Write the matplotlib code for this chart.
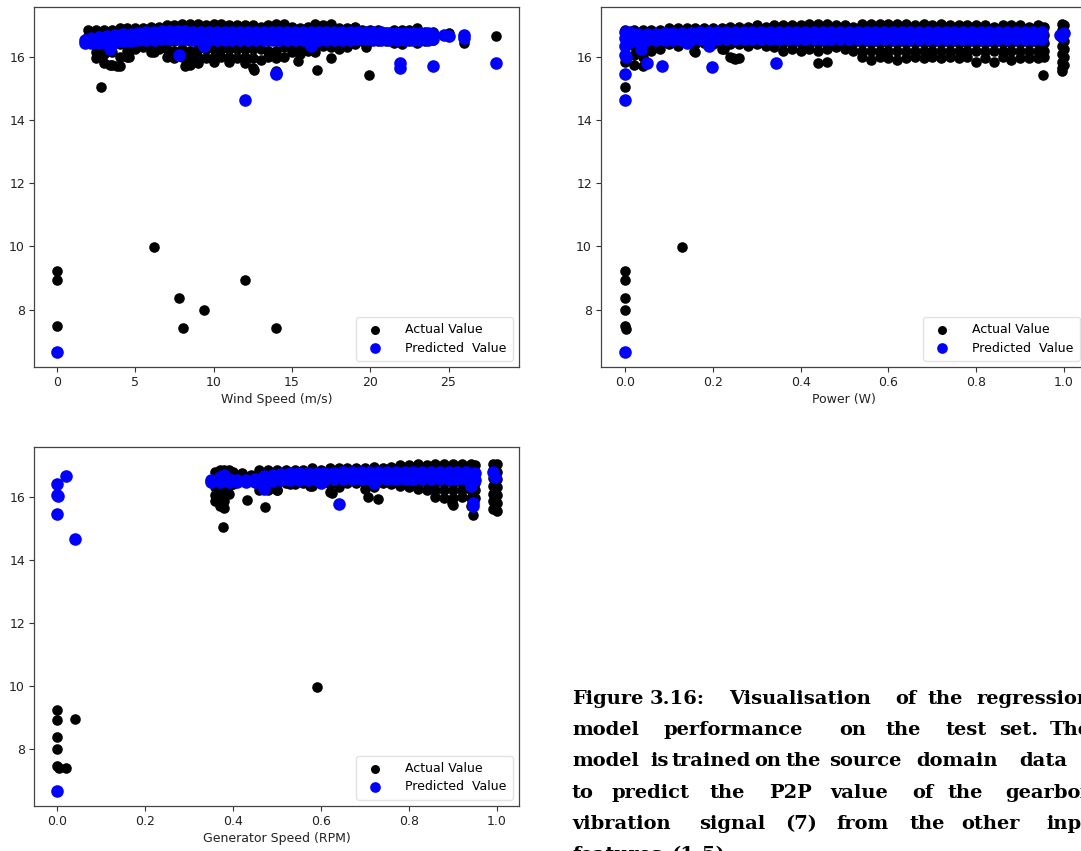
import matplotlib
matplotlib.use("Agg")
import matplotlib.pyplot as plt

# ---------------- Panel 1: Wind speed ----------------
wind_actual_cols = [
    (2.0, [16.85, 16.65, 16.45]),
    (2.5, [16.85, 16.65, 16.4, 16.15, 15.95]),
    (3.0, [16.85, 16.6, 16.35, 16.1, 15.8]),
    (3.5, [16.85, 16.6, 16.4, 16.15, 15.75]),
    (4.0, [16.9, 16.65, 16.4, 16.0, 15.7]),
    (4.5, [16.9, 16.65, 16.45, 16.2, 16.0]),
    (5.0, [16.9, 16.7, 16.45, 16.25]),
    (5.5, [16.9, 16.7, 16.45, 16.3]),
    (6.0, [16.95, 16.7, 16.45, 16.15]),
    (6.5, [16.95, 16.7, 16.45, 16.25]),
    (7.0, [17.0, 16.75, 16.5, 16.25, 16.0]),
    (7.5, [17.0, 16.75, 16.5, 16.2, 15.95]),
    (8.0, [17.05, 16.75, 16.5, 16.25, 16.0]),
    (8.5, [17.05, 16.75, 16.5, 16.2, 15.95, 15.75]),
    (9.0, [17.05, 16.75, 16.5, 16.25, 16.0, 15.8]),
    (9.5, [17.0, 16.75, 16.5, 16.25, 15.95]),
    (10.0, [17.05, 16.75, 16.5, 16.25, 16.0, 15.85]),
    (10.5, [17.05, 16.75, 16.5, 16.25, 16.0]),
    (11.0, [17.0, 16.75, 16.5, 16.25, 16.0, 15.85]),
    (11.5, [17.0, 16.75, 16.5, 16.25, 15.95]),
    (12.0, [17.0, 16.75, 16.5, 16.25, 16.0, 15.8]),
    (12.5, [17.0, 16.75, 16.5, 16.25, 15.95, 15.65]),
    (13.0, [16.95, 16.75, 16.5, 16.25, 15.9]),
    (13.5, [17.0, 16.75, 16.5, 16.2, 16.0]),
    (14.0, [17.05, 16.75, 16.5, 16.2, 15.95]),
    (14.5, [17.05, 16.75, 16.5, 16.3, 16.0]),
    (15.0, [16.95, 16.75, 16.5, 16.35, 16.15]),
    (15.5, [16.9, 16.7, 16.5, 16.25, 16.1]),
    (16.0, [16.95, 16.7, 16.5, 16.3, 16.2]),
    (16.5, [17.05, 16.75, 16.5, 16.3, 16.15]),
    (17.0, [17.0, 16.75, 16.5, 16.35]),
    (17.5, [17.05, 16.75, 16.5, 16.3]),
    (18.0, [16.9, 16.7, 16.5, 16.25]),
    (18.5, [16.9, 16.7, 16.45, 16.3]),
    (19.0, [16.95, 16.7, 16.5, 16.4]),
    (19.5, [16.85, 16.7, 16.5]),
    (20.0, [16.85, 16.7, 16.5]),
    (20.5, [16.85, 16.7, 16.5]),
    (21.0, [16.8, 16.65, 16.5]),
    (21.5, [16.85, 16.65, 16.45]),
    (22.0, [16.85, 16.65, 16.4]),
    (22.5, [16.85, 16.65, 16.5]),
    (23.0, [16.9, 16.65, 16.45]),
    (23.5, [16.8, 16.65, 16.5]),
    (24.0, [16.8, 16.65, 16.55]),
]
wind_actual_out_x = [0, 0, 0, 6.2, 7.8, 8.05, 9.4, 12.0, 14.0, 2.8, 19.9, 16.6, 28.0, 26.0, 25.0,
                     14.0, 15.4, 17.5, 19.7, 8.2, 6.2, 4.6, 3.8, 3.4, 12.6]
wind_actual_out_y = [9.22, 8.92, 7.47, 9.97, 8.38, 7.4, 7.98, 8.93, 7.4, 15.05, 15.42, 15.6, 16.65, 16.45, 16.75,
                     15.55, 15.87, 15.97, 16.3, 15.72, 16.15, 16.0, 15.7, 15.75, 15.6]

wind_pred_x  = [1.8, 2.2, 2.7, 3.2, 3.7, 4.2, 4.7, 5.2, 5.7, 6.2, 6.7, 7.2, 7.7, 8.2, 8.7, 9.2, 9.7,
                10.2, 10.7, 11.2, 11.7, 12.2, 12.7, 13.2, 13.7, 14.2, 14.7, 15.2, 15.7, 16.2, 16.7,
                17.2, 17.7, 18.2, 18.7, 19.2, 19.7, 20.2, 20.7, 21.2, 21.7, 22.2, 22.7, 23.2, 23.7, 24.0]
wind_pred_lo = [16.45, 16.44, 16.45, 16.45, 16.47, 16.5, 16.5, 16.52, 16.54, 16.55, 16.56, 16.56, 16.56,
                16.56, 16.55, 16.55, 16.55, 16.55, 16.55, 16.55, 16.53, 16.53, 16.53, 16.53, 16.53, 16.53,
                16.55, 16.55, 16.55, 16.53, 16.55, 16.55, 16.55, 16.55, 16.55, 16.57, 16.57, 16.55, 16.55,
                16.55, 16.53, 16.53, 16.55, 16.55, 16.55, 16.57]
wind_pred_hi = [16.52, 16.6, 16.64, 16.66, 16.7, 16.72, 16.74, 16.76, 16.79, 16.79, 16.82, 16.82, 16.82,
                16.82, 16.8, 16.8, 16.8, 16.79, 16.79, 16.79, 16.78, 16.78, 16.78, 16.78, 16.78, 16.78,
                16.79, 16.79, 16.79, 16.78, 16.79, 16.79, 16.79, 16.79, 16.79, 16.8, 16.8, 16.79, 16.78,
                16.77, 16.76, 16.76, 16.76, 16.76, 16.76, 16.74]
wind_pred_out_x = [0, 7.8, 12.0, 14.0, 14.0, 21.9, 21.9, 24.0, 28.0, 24.7, 25.0, 26.0, 26.0, 3.4, 9.4, 16.2]
wind_pred_out_y = [6.67, 16.05, 14.65, 15.45, 15.5, 15.8, 15.65, 15.7, 15.8, 16.7, 16.65, 16.7, 16.6, 16.25, 16.35, 16.35]

# ---------------- Panel 2: Power ----------------
power_actual_cols = [
    (0.00, [16.85, 16.6, 16.35, 16.1, 15.85]),
    (0.02, [16.85, 16.6, 16.35, 16.05, 15.75]),
    (0.04, [16.85, 16.6, 16.35, 16.0, 15.7]),
    (0.06, [16.85, 16.6, 16.4, 16.2]),
    (0.08, [16.85, 16.6, 16.4, 16.25]),
    (0.10, [16.9, 16.65, 16.4]),
    (0.12, [16.9, 16.65, 16.4, 16.35]),
    (0.14, [16.9, 16.65, 16.45]),
    (0.16, [16.9, 16.65, 16.4, 16.15]),
    (0.18, [16.9, 16.65, 16.45]),
    (0.20, [16.9, 16.65, 16.4]),
    (0.22, [16.9, 16.65, 16.4, 16.25]),
    (0.24, [16.95, 16.65, 16.4, 16.0]),
    (0.26, [16.95, 16.65, 16.4, 15.95]),
    (0.28, [16.95, 16.7, 16.45, 16.35]),
    (0.30, [17.0, 16.7, 16.45, 16.4]),
    (0.32, [16.95, 16.7, 16.45, 16.35]),
    (0.34, [17.0, 16.7, 16.45, 16.3]),
    (0.36, [17.0, 16.7, 16.45, 16.2]),
    (0.38, [17.0, 16.7, 16.45, 16.25]),
    (0.40, [17.0, 16.7, 16.45, 16.2]),
    (0.42, [17.05, 16.7, 16.45, 16.25]),
    (0.44, [17.05, 16.7, 16.45, 16.2, 15.8]),
    (0.46, [17.05, 16.7, 16.45, 16.25, 15.85]),
    (0.48, [17.0, 16.7, 16.45, 16.3]),
    (0.50, [17.0, 16.7, 16.45, 16.25]),
    (0.52, [16.95, 16.7, 16.45, 16.2]),
    (0.54, [17.05, 16.7, 16.45, 16.2, 16.0]),
    (0.56, [17.05, 16.7, 16.45, 16.2, 15.9]),
    (0.58, [17.05, 16.7, 16.45, 16.2, 16.0]),
    (0.60, [17.05, 16.7, 16.45, 16.2, 15.95]),
    (0.62, [17.05, 16.7, 16.45, 16.2, 15.9]),
    (0.64, [17.05, 16.7, 16.45, 16.2, 15.95]),
    (0.66, [17.0, 16.7, 16.45, 16.2, 16.0]),
    (0.68, [17.05, 16.7, 16.45, 16.2, 15.95]),
    (0.70, [17.0, 16.7, 16.45, 16.2, 16.0]),
    (0.72, [17.05, 16.7, 16.45, 16.2, 15.95]),
    (0.74, [17.0, 16.7, 16.45, 16.2, 16.0]),
    (0.76, [17.0, 16.7, 16.45, 16.2, 15.95]),
    (0.78, [17.0, 16.7, 16.45, 16.2, 16.0]),
    (0.80, [17.0, 16.7, 16.45, 16.2, 15.85]),
    (0.82, [17.0, 16.7, 16.45, 16.2, 15.95]),
    (0.84, [16.95, 16.7, 16.45, 16.2, 15.85]),
    (0.86, [17.0, 16.7, 16.45, 16.2, 16.0]),
    (0.88, [17.0, 16.7, 16.45, 16.2, 15.9]),
    (0.90, [17.0, 16.7, 16.45, 16.2, 15.95]),
    (0.92, [16.95, 16.7, 16.45, 16.2, 15.95]),
    (0.94, [17.0, 16.7, 16.45, 16.2, 15.95]),
    (0.955, [16.95, 16.7, 16.45, 16.2, 16.0]),
    (0.995, [17.05, 16.85, 16.6, 16.35, 16.1, 15.85, 15.65, 15.55]),
    (1.0, [17.0, 16.75, 16.5, 16.25, 16.0, 15.75]),
]
power_actual_out_x = [0.952, 0.0, 0.0, 0.0, 0.0, 0.0, 0.0, 0.002, 0.13, 0.157, 0.226, 0.245, 0.25]
power_actual_out_y = [15.42, 15.05, 9.22, 8.92, 8.38, 7.98, 7.47, 7.38, 9.97, 16.2, 16.25, 15.95, 15.93]

power_pred_x  = [0.0, 0.01, 0.03, 0.05, 0.07, 0.09, 0.11, 0.13, 0.15, 0.17, 0.19, 0.21, 0.23, 0.25, 0.27,
                 0.29, 0.31, 0.33, 0.35, 0.37, 0.39, 0.41, 0.43, 0.45, 0.47, 0.49, 0.51, 0.53, 0.55, 0.57,
                 0.59, 0.61, 0.63, 0.65, 0.67, 0.69, 0.71, 0.73, 0.75, 0.77, 0.79, 0.81, 0.83, 0.85, 0.87,
                 0.89, 0.91, 0.93, 0.95]
power_pred_lo = [16.35, 16.47, 16.5, 16.52, 16.52, 16.53, 16.54, 16.55, 16.55, 16.56, 16.56, 16.56, 16.56,
                 16.56, 16.56, 16.56, 16.56, 16.56, 16.56, 16.56, 16.56, 16.56, 16.56, 16.56, 16.56, 16.56,
                 16.56, 16.56, 16.56, 16.56, 16.56, 16.56, 16.56, 16.56, 16.56, 16.56, 16.56, 16.56, 16.56,
                 16.56, 16.56, 16.56, 16.56, 16.56, 16.56, 16.56, 16.56, 16.56, 16.56]
power_pred_hi = [16.8, 16.78, 16.74, 16.74, 16.74, 16.76, 16.76, 16.76, 16.77, 16.78, 16.78, 16.78, 16.79,
                 16.79, 16.79, 16.79, 16.8, 16.8, 16.8, 16.8, 16.8, 16.8, 16.8, 16.8, 16.8, 16.8,
                 16.8, 16.8, 16.8, 16.8, 16.8, 16.8, 16.8, 16.8, 16.8, 16.8, 16.8, 16.8, 16.8,
                 16.8, 16.8, 16.8, 16.8, 16.8, 16.8, 16.8, 16.8, 16.8, 16.8]
power_pred_out_x = [0.0, 0.0, 0.0, 0.0, 0.0, 0.002, 0.049, 0.085, 0.198, 0.343, 0.035, 0.19, 0.14,
                    0.995, 1.0, 0.99]
power_pred_out_y = [16.6, 16.05, 15.45, 14.65, 6.67, 16.0, 15.8, 15.7, 15.68, 15.8, 16.25, 16.35, 16.45,
                    16.65, 16.75, 16.7]

# ---------------- Panel 3: Generator speed ----------------
gen_actual_cols = [
    (0.36, [16.8, 16.55, 16.3, 16.05, 15.85]),
    (0.37, [16.85, 16.6, 16.35, 16.1, 15.85, 15.7]),
    (0.38, [16.85, 16.6, 16.35, 16.1, 15.85, 15.65]),
    (0.39, [16.85, 16.6, 16.35, 16.1]),
    (0.40, [16.8, 16.6, 16.4]),
    (0.42, [16.75, 16.55]),
    (0.44, [16.7, 16.55]),
    (0.46, [16.85, 16.6, 16.4, 16.2]),
    (0.48, [16.85, 16.6, 16.35, 16.2]),
    (0.50, [16.85, 16.6, 16.4, 16.2]),
    (0.52, [16.85, 16.65, 16.45]),
    (0.54, [16.85, 16.65, 16.4]),
    (0.56, [16.85, 16.65, 16.45]),
    (0.58, [16.9, 16.65, 16.4, 16.35]),
    (0.60, [16.85, 16.65, 16.45]),
    (0.62, [16.9, 16.65, 16.4, 16.15]),
    (0.64, [16.9, 16.65, 16.45, 16.3]),
    (0.66, [16.9, 16.65, 16.45]),
    (0.68, [16.9, 16.7, 16.45]),
    (0.70, [16.9, 16.7, 16.45, 16.25]),
    (0.72, [16.95, 16.7, 16.45, 16.3]),
    (0.74, [16.9, 16.7, 16.45]),
    (0.76, [16.95, 16.7, 16.45, 16.4]),
    (0.78, [17.0, 16.7, 16.45, 16.35]),
    (0.80, [17.0, 16.7, 16.45, 16.3]),
    (0.82, [17.05, 16.75, 16.45, 16.25]),
    (0.84, [17.0, 16.75, 16.45, 16.2]),
    (0.86, [17.05, 16.75, 16.45, 16.2, 16.0]),
    (0.88, [17.05, 16.75, 16.45, 16.2, 15.95]),
    (0.90, [17.05, 16.75, 16.45, 16.2, 15.95, 15.75]),
    (0.92, [17.05, 16.75, 16.45, 16.2, 16.0]),
    (0.94, [17.05, 16.75, 16.45, 16.2, 15.95, 15.7]),
    (0.95, [17.0, 16.75, 16.45, 16.2, 15.95]),
    (0.99, [17.05, 16.85, 16.6, 16.35, 16.1, 15.85, 15.6]),
    (1.0, [17.05, 16.8, 16.55, 16.3, 16.05, 15.8, 15.55]),
]
gen_actual_out_x = [0.378, 0.432, 0.473, 0.707, 0.73, 0.897, 0.945, 0.59, 0.0, 0.0, 0.0, 0.0, 0.0,
                    0.005, 0.02, 0.042, 0.5, 0.53, 0.575, 0.625]
gen_actual_out_y = [15.05, 15.9, 15.68, 16.0, 15.93, 15.8, 15.42, 9.97, 9.22, 8.92, 8.38, 7.98, 7.45,
                    7.4, 7.4, 8.95, 16.2, 16.4, 16.35, 16.12]

gen_pred_x  = [0.35, 0.37, 0.39, 0.41, 0.43, 0.45, 0.47, 0.49, 0.51, 0.53, 0.55, 0.57, 0.59, 0.61, 0.63,
               0.65, 0.67, 0.69, 0.71, 0.73, 0.75, 0.77, 0.79, 0.81, 0.83, 0.85, 0.87, 0.89, 0.91, 0.93, 0.95]
gen_pred_lo = [16.48, 16.48, 16.46, 16.46, 16.46, 16.46, 16.48, 16.5, 16.52, 16.53, 16.54, 16.54, 16.54,
               16.56, 16.56, 16.56, 16.56, 16.56, 16.56, 16.56, 16.56, 16.56, 16.56, 16.56, 16.56, 16.56,
               16.56, 16.56, 16.56, 16.56, 16.54]
gen_pred_hi = [16.52, 16.64, 16.56, 16.53, 16.53, 16.56, 16.66, 16.7, 16.72, 16.74, 16.74, 16.76, 16.76,
               16.76, 16.77, 16.78, 16.78, 16.79, 16.79, 16.79, 16.79, 16.8, 16.8, 16.8, 16.8, 16.8,
               16.8, 16.8, 16.8, 16.8, 16.76]
gen_pred_out_x = [0.0, 0.0, 0.003, 0.0, 0.02, 0.042, 0.0, 0.64, 0.945, 0.945, 0.47, 0.94, 0.6, 0.72,
                  0.995, 0.99, 0.38]
gen_pred_out_y = [16.42, 16.05, 16.02, 15.45, 16.65, 14.65, 6.67, 15.78, 15.7, 15.8, 16.25, 16.35, 16.45,
                  16.45, 16.62, 16.78, 16.7]

x_labels = ["Wind Speed (m/s)", "Power (W)", "Generator Speed (RPM)"]
legend_labels = ["Actual Value", "Predicted  Value"]

caption_lines = [
    ["Figure", "3.16:", "Visualisation", "of", "the", "regression"],
    ["model", "performance", "on", "the", "test", "set.", "The"],
    ["model", "is", "trained", "on", "the", "source", "domain", "data"],
    ["to", "predict", "the", "P2P", "value", "of", "the", "gearbox"],
    ["vibration", "signal", "(7)", "from", "the", "other", "input"],
    ["features", "(1-5)."],
]
caption_word_px = [
    [572, 650, 729, 895, 928, 976],
    [572, 663, 839, 885, 945, 999, 1050],
    [572, 650, 671, 754, 785, 829, 916, 1019],
    [572, 612, 709, 769, 830, 912, 947, 1005],
    [572, 699, 785, 836, 909, 961, 1046],
    [572, 671],
]
caption_base_py = [704, 735, 766, 798, 829, 860]

# ---------------- drawing ----------------
W, H = 1081, 851
fig = plt.figure(figsize=(W / 100, H / 100), dpi=100)
plt.rcParams['font.family'] = ['DejaVu Sans']


def flatten(cols):
    xs, ys = [], []
    for x, yl in cols:
        for y in yl:
            xs.append(x)
            ys.append(y)
    return xs, ys


def panel(rect, cols, aox, aoy, px_, plo, phi, pox, poy, xlim, xlabel):
    ax = fig.add_axes(rect)
    ax_x, ax_y = flatten(cols)
    ax_x += aox
    ax_y += aoy
    pr_x = px_ + px_ + pox
    pr_y = plo + phi + poy
    ax.scatter(ax_x, ax_y, s=58, c='black', linewidths=0, label=legend_labels[0], zorder=2)
    ax.scatter(pr_x, pr_y, s=82, c='blue', linewidths=0, label=legend_labels[1], zorder=3)
    ax.set_xlim(*xlim)
    ax.set_ylim(6.18, 17.58)
    ax.set_yticks([8, 10, 12, 14, 16])
    ax.tick_params(labelsize=9, length=3.5, width=0.8, color='#333333', labelcolor='#222222', pad=3)
    for sp in ax.spines.values():
        sp.set_color('#444444')
        sp.set_linewidth(0.9)
    ax.set_xlabel(xlabel, fontsize=9, color='#222222', labelpad=3)
    leg = ax.legend(loc='lower right', fontsize=9, frameon=True, borderpad=0.5, markerscale=0.85,
                    handletextpad=1.4, labelspacing=0.45, framealpha=0.8, fancybox=True)
    leg.get_frame().set_edgecolor('#dddddd')
    return ax


fy = 1 - 367 / H
panel([34 / W, fy, 485 / W, 360 / H], wind_actual_cols, wind_actual_out_x, wind_actual_out_y,
      wind_pred_x, wind_pred_lo, wind_pred_hi, wind_pred_out_x, wind_pred_out_y,
      (-1.47, 29.5), x_labels[0])
panel([601 / W, fy, 485 / W, 360 / H], power_actual_cols, power_actual_out_x, power_actual_out_y,
      power_pred_x, power_pred_lo, power_pred_hi, power_pred_out_x, power_pred_out_y,
      (-0.055, 1.05), x_labels[1])
panel([34 / W, 1 - 806 / H, 485 / W, 359 / H], gen_actual_cols, gen_actual_out_x, gen_actual_out_y,
      gen_pred_x, gen_pred_lo, gen_pred_hi, gen_pred_out_x, gen_pred_out_y,
      (-0.052, 1.05), x_labels[2])

for words, xs, by in zip(caption_lines, caption_word_px, caption_base_py):
    for w, x in zip(words, xs):
        fig.text(x / W, 1 - by / H, w, fontsize=14, fontweight='bold',
                 family=['DejaVu Serif'], va='baseline', ha='left', color='black')

fig.savefig("out.png", dpi=100)
